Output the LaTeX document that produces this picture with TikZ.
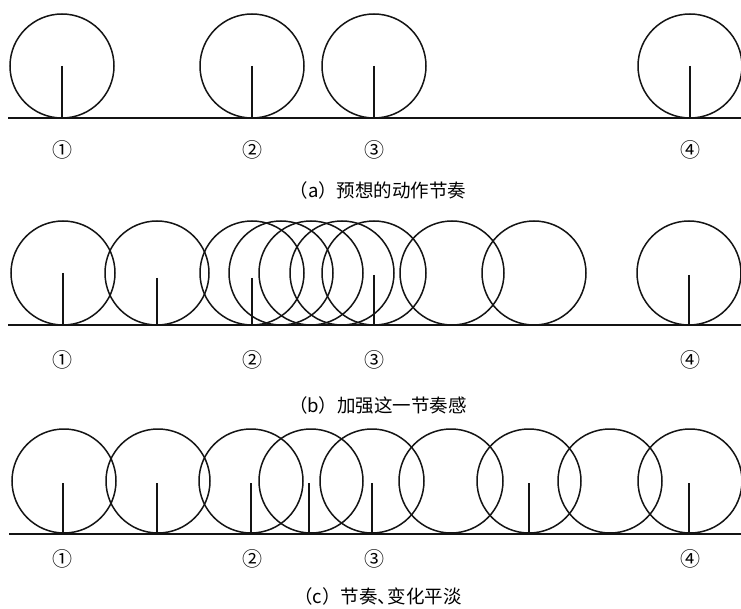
\documentclass[tikz,border=0pt]{standalone}
\usepackage{fontspec}
\setmainfont{Noto Sans CJK SC}
\definecolor{inkblack}{HTML}{141414}
\tikzset{
  ball/.style={inkblack, line width=1.5pt},
  stem/.style={inkblack, line width=1.5pt},
  ground/.style={inkblack, line width=1.6pt},
  num/.style={font=\fontsize{20}{20}\selectfont},
  caption/.style={font=\fontsize{18.5}{18.5}\selectfont}
}
\begin{document}
\begin{tikzpicture}[x=1pt, y=-1pt]
\useasboundingbox (0,0) rectangle (741,609);

\draw[ground] (8,118) -- (741,118);
\foreach \x in {62,252,374,690} {
  \draw[ball] (\x,66) circle[radius=52pt];
  \draw[stem] (\x,66) -- (\x,118);
}
\foreach \x/\n [count=\i] in {62/①,252/②,374/③,690/④} {
  \node[num] (a\i) at (\x,150) {\n};
}
\node[caption] (capa) at (378,190) {（a）预想的动作节奏};




\draw[ground] (8,325) -- (741,325);
\foreach \x in {63,157,252,281,311,342,374,452,534,689} {
  \draw[ball] (\x,273) circle[radius=52pt];
}
\foreach \x/\t in {63/273,157/278,252/278,374/275,689/275} {
  \draw[stem] (\x,\t) -- (\x,325);
}
\foreach \x/\n [count=\i] in {62/①,252/②,374/③,690/④} {
  \node[num] (b\i) at (\x,360) {\n};
}
\node[caption] (capb) at (378,405) {（b）加强这一节奏感};




\draw[ground] (9,534) -- (741,534);
\foreach \x in {64,158,251,311,372,451,529,610,690} {
  \draw[ball] (\x,481) circle[radius=52pt];
}
\foreach \x in {63,157,251,309,372,529,689} {
  \draw[stem] (\x,483) -- (\x,534);
}
\foreach \x/\n [count=\i] in {62/①,252/②,374/③,690/④} {
  \node[num] (c\i) at (\x,559) {\n};
}
\node[caption] (capc) at (378,596) {（c）节奏、\kern-0.45em变化平淡};

\end{tikzpicture}
\end{document}
